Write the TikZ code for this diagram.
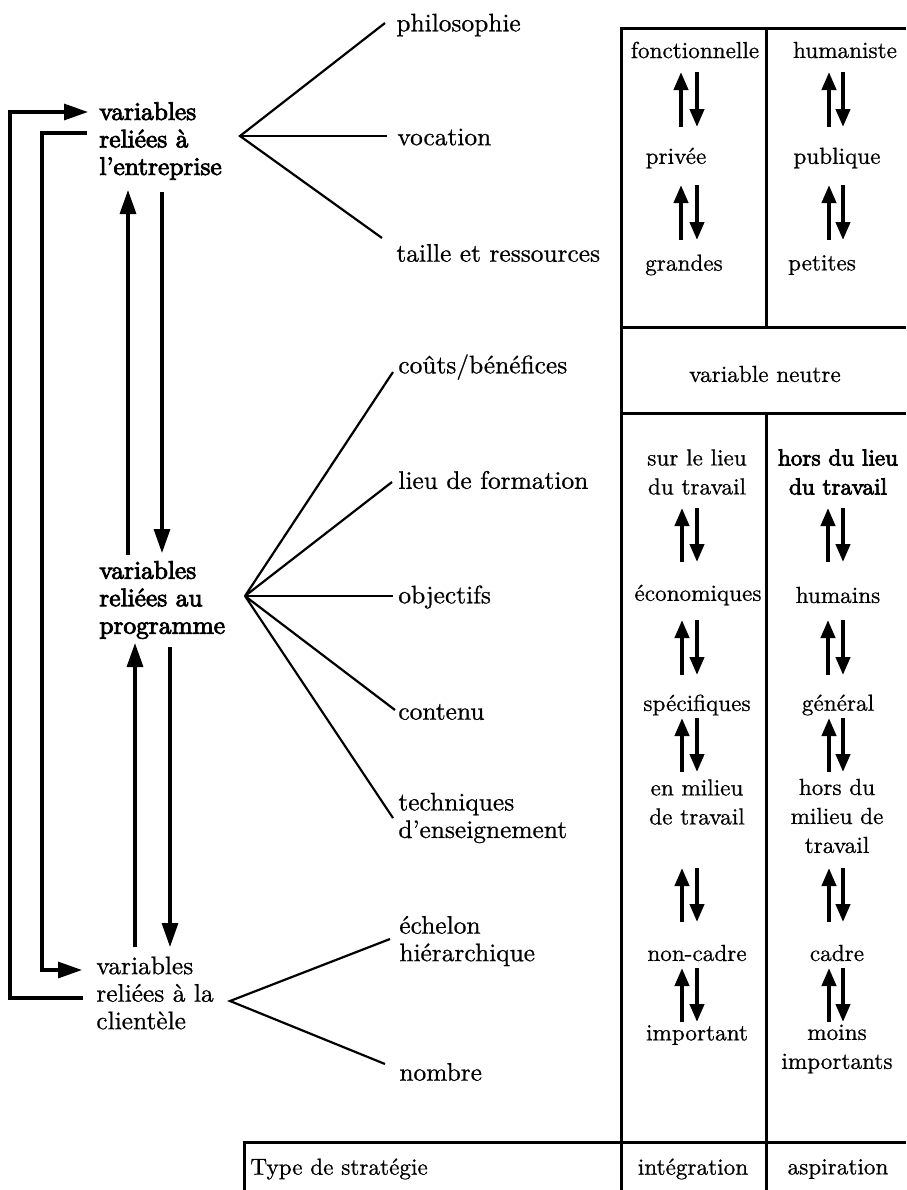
\documentclass[tikz,border=0pt]{standalone}
\usepackage{fontspec}
\setmainfont{lmroman10-regular.otf}[BoldFont=lmroman10-bold.otf,ItalicFont=lmroman10-italic.otf]
\newfontface\sembf{lmroman10-regular.otf}[FakeBold=3.2]
\newfontface\regf{lmroman10-regular.otf}[FakeBold=0.7]
\usetikzlibrary{arrows.meta}
\tikzset{
  lbl/.style={inner sep=0pt, anchor=west, align=left, font=\fontsize{12.7}{13.75}\selectfont\regf},
  blbl/.style={lbl, font=\fontsize{12.7}{13.75}\selectfont\sembf},
  tab/.style={inner sep=0pt, align=center, font=\fontsize{11.6}{14.5}\selectfont\regf},
  btab/.style={tab, font=\fontsize{11.6}{14.5}\selectfont\sembf},
  fanline/.style={line width=1.1pt},
  rule/.style={line width=1.5pt},
  looparr/.style={line width=1.6pt, -{Triangle[length=12pt,width=8pt]}},
  dup/.style={line width=2pt, -{Triangle[length=9pt,width=7pt]}},
}
\newcommand\updown[5]{%
  \coordinate (#1ua) at (#2,#5); \coordinate (#1ub) at (#2,#4);
  \coordinate (#1da) at (#3,#4); \coordinate (#1db) at (#3,#5);
  \draw[dup] (#1ua) -- (#1ub);
  \draw[dup] (#1da) -- (#1db);}
\begin{document}
\begin{tikzpicture}[x=0.5pt,y=-0.5pt]
\path[use as bounding box, fill=white] (0,0) rectangle (906,1190);

% left labels
\node[blbl] (ent) at (99,141) {variables\\reliées à\\l’entreprise};
\node[blbl] (prog) at (99,600) {variables\\reliées au\\programme};
\node[lbl] (cli) at (96,993) {variables\\reliées à la\\clientèle};

% loops
\coordinate (o1) at (83,998); \coordinate (o2) at (10,998);
\coordinate (o3) at (10,112); \coordinate (o4) at (88,112);
\draw[looparr] (o1) -- (o2) -- (o3) -- (o4);
\coordinate (i1) at (87,133); \coordinate (i2) at (42,133);
\coordinate (i3) at (42,970); \coordinate (i4) at (82,970);
\draw[looparr] (i1) -- (i2) -- (i3) -- (i4);

% vertical arrows
\coordinate (a1) at (128,555); \coordinate (a2) at (128,190);
\draw[looparr] (a1) -- (a2);
\coordinate (b1) at (162,192); \coordinate (b2) at (162,553);
\draw[looparr] (b1) -- (b2);
\coordinate (c1) at (135,947); \coordinate (c2) at (135,643);
\draw[looparr] (c1) -- (c2);
\coordinate (d1) at (170,647); \coordinate (d2) at (170,947);
\draw[looparr] (d1) -- (d2);

% fan labels
\node[lbl] (phil) at (396,25) {philosophie};
\node[lbl] (voc) at (397,137) {vocation};
\node[lbl] (tail) at (396,253) {taille et ressources};
\node[lbl] (cout) at (398,367) {coûts/bénéfices};
\node[lbl] (lieu) at (398,480) {lieu de formation};
\node[lbl] (obj) at (398,597) {objectifs};
\node[lbl] (cont) at (398,712) {contenu};
\node[lbl] (tech) at (398,818) {techniques\\d’enseignement};
\node[lbl] (ech) at (399,941) {échelon\\hiérarchique};
\node[lbl] (nomb) at (399,1072) {nombre};

% fans
\coordinate (fe) at (240,136);
\coordinate (ephil) at (385,23); \coordinate (evoc) at (387,136); \coordinate (etail) at (382,238);
\draw[fanline] (ephil) -- (fe) -- (etail); \draw[fanline] (fe) -- (evoc);
\coordinate (fp) at (245,596);
\coordinate (ecout) at (393,372); \coordinate (elieu) at (392,482); \coordinate (eobj) at (393,596);
\coordinate (econt) at (395,710); \coordinate (etech) at (393,818);
\draw[fanline] (fp) -- (ecout); \draw[fanline] (fp) -- (elieu); \draw[fanline] (fp) -- (eobj);
\draw[fanline] (fp) -- (econt); \draw[fanline] (fp) -- (etech);
\coordinate (fc) at (230,1001);
\coordinate (eech) at (390,939); \coordinate (enomb) at (385,1064);
\draw[fanline] (eech) -- (fc) -- (enomb);

% table rules
\coordinate (t1) at (621,28); \coordinate (t2) at (906,28); \coordinate (t3) at (621,1190);
\draw[rule] (t2) -- (t1) -- (t3);
\coordinate (m1) at (766,28); \coordinate (m2) at (766,327);
\draw[rule] (m1) -- (m2);
\coordinate (h1) at (621,327); \coordinate (h2) at (906,327);
\draw[rule] (h1) -- (h2);
\coordinate (h3) at (621,413); \coordinate (h4) at (906,413);
\draw[rule] (h3) -- (h4);
\coordinate (m3) at (766,413); \coordinate (m4) at (766,1190);
\draw[rule] (m3) -- (m4);
\coordinate (bb1) at (244,1190); \coordinate (bb2) at (244,1142); \coordinate (bb3) at (906,1142);
\draw[rule] (bb1) -- (bb2) -- (bb3);

% table texts
\node[tab] (fonc) at (695,50) {fonctionnelle};
\node[tab] (huma) at (845,50) {humaniste};
\node[tab] (priv) at (676,158) {privée};
\node[tab] (publ) at (837,158) {publique};
\node[tab] (gran) at (684,265) {grandes};
\node[tab] (peti) at (822,265) {petites};
\node[tab] (neut) at (765,374) {variable neutre};
\node[tab] (sur) at (697,472) {sur le lieu\\du travail};
\node[btab] (hors) at (838,472) {hors du lieu\\du travail};
\node[tab] (eco) at (698,595) {économiques};
\node[tab] (hum) at (838,595) {humains};
\node[tab] (spe) at (697,705) {spécifiques};
\node[tab] (gen) at (838,705) {général};
\node[tab] (enm) at (697,802) {en milieu\\de travail};
\node[tab] (hdm) at (837,816) {hors du\\milieu de\\travail};
\node[tab] (ncad) at (697,953) {non-cadre};
\node[tab] (cad) at (837,953) {cadre};
\node[tab] (imp) at (697,1035) {important};
\node[tab] (mimp) at (837,1049) {moins\\importants};
\node[tab, anchor=west] (type) at (250,1169) {Type de stratégie};
\node[tab] (integ) at (693,1169) {intégration};
\node[tab] (aspi) at (838,1169) {aspiration};

% double arrows
\updown{l1}{681}{697}{72}{127}
\updown{r1}{829}{843}{72}{127}
\updown{l2}{681}{697}{185}{240}
\updown{r2}{829}{843}{185}{240}
\updown{l3}{682}{697}{508}{562}
\updown{r3}{828}{843}{508}{562}
\updown{l4}{682}{697}{620}{675}
\updown{r4}{828}{843}{620}{675}
\updown{l5}{682}{697}{718}{772}
\updown{r5}{829}{843}{718}{772}
\updown{l6}{682}{697}{868}{922}
\updown{r6}{829}{843}{868}{922}
\updown{l7}{682}{697}{968}{1022}
\updown{r7}{829}{843}{968}{1022}
\end{tikzpicture}
\end{document}
